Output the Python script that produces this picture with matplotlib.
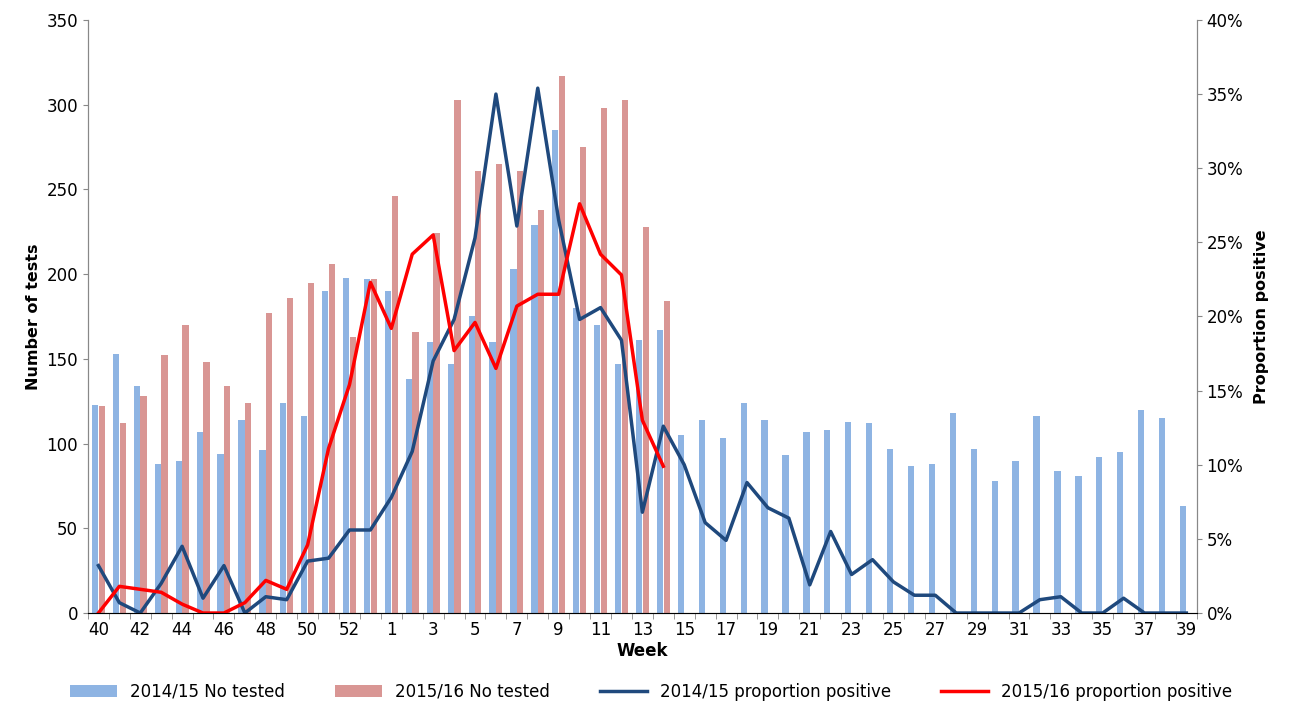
import numpy as np
import matplotlib.pyplot as plt
from matplotlib.ticker import FuncFormatter

weeks = [str(w) for w in range(40, 54)] + [str(w) for w in range(1, 40)]
tested_1415 = [123, 153, 134, 88, 90, 107, 94, 114, 96, 124, 116, 190, 198, 197,
               190, 138, 160, 147, 175, 160, 203, 229, 285, 180, 170, 147, 161, 167,
               105, 114, 103, 124, 114, 93, 107, 108, 113, 112, 97, 87, 88, 118,
               97, 78, 90, 116, 84, 81, 92, 95, 120, 115, 63]
tested_1516 = [122, 112, 128, 152, 170, 148, 134, 124, 177, 186, 195, 206, 163, 197,
               246, 166, 224, 303, 261, 265, 261, 238, 317, 275, 298, 303, 228, 184]
pos_1415 = [3.2, 0.7, 0.0, 2.0, 4.5, 1.0, 3.2, 0.0, 1.1, 0.9, 3.5, 3.7, 5.6, 5.6,
            7.8, 10.9, 17.0, 19.8, 25.3, 35.0, 26.1, 35.4, 26.5, 19.8, 20.6, 18.4, 6.8, 12.6,
            10.0, 6.1, 4.9, 8.8, 7.1, 6.4, 1.9, 5.5, 2.6, 3.6, 2.1, 1.2, 1.2, 0.0,
            0.0, 0.0, 0.0, 0.9, 1.1, 0.0, 0.0, 1.0, 0.0, 0.0, 0.0]
pos_1516 = [0.0, 1.8, 1.6, 1.4, 0.6, 0.0, 0.0, 0.7, 2.2, 1.6, 4.6, 11.1, 15.4, 22.3,
            19.2, 24.2, 25.5, 17.7, 19.6, 16.5, 20.7, 21.5, 21.5, 27.6, 24.2, 22.8, 13.0, 9.9]

x = np.arange(len(weeks))
x2 = np.arange(len(tested_1516))

fig = plt.figure(figsize=(13.03, 7.12), dpi=100)
ax = fig.add_axes([0.0675, 0.139, 0.851, 0.833])
ax.bar(x - 0.16, tested_1415, width=0.3, color='#8EB4E3', label='2014/15 No tested')
ax.bar(x2 + 0.16, tested_1516, width=0.3, color='#D99694', label='2015/16 No tested')
ax.set_xlim(-0.5, len(weeks) - 0.5)
ax.set_ylim(0, 350)
ax.set_yticks(range(0, 351, 50))
ax.set_xticks(x[::2])
ax.set_xticklabels(weeks[::2])
ax.set_xticks(np.arange(-0.5, len(weeks), 1), minor=True)
ax.tick_params(axis='x', which='major', length=0, labelsize=12, pad=6)
ax.tick_params(axis='x', which='minor', length=4, color='#888888')
ax.tick_params(axis='y', labelsize=12, color='#888888')
ax.set_xlabel('Week', fontsize=12, fontweight='bold', labelpad=2)
ax.set_ylabel('Number of tests', fontsize=11.5, fontweight='bold')
ax.spines['top'].set_visible(False)
for s in ['left', 'bottom', 'right']:
    ax.spines[s].set_color('#888888')

ax2 = ax.twinx()
ax2.plot(x, pos_1415, color='#1F497D', lw=2.5, label='2014/15 proportion positive')
ax2.plot(x2, pos_1516, color='#FF0000', lw=2.5, label='2015/16 proportion positive')
ax2.set_ylim(0, 40)
ax2.set_yticks(range(0, 41, 5))
ax2.yaxis.set_major_formatter(FuncFormatter(lambda v, p: f'{v:.0f}%'))
ax2.tick_params(axis='y', labelsize=12, color='#888888')
ax2.set_ylabel('Proportion positive', fontsize=11.5, fontweight='bold', labelpad=8)
ax2.spines['top'].set_visible(False)
ax2.spines['right'].set_color('#888888')
ax2.spines['left'].set_color('#888888')

h1, l1 = ax.get_legend_handles_labels()
h2, l2 = ax2.get_legend_handles_labels()
fig.legend(h1 + h2, l1 + l2, loc='lower center', ncol=4, frameon=False,
           fontsize=12, bbox_to_anchor=(0.5, -0.005), columnspacing=3.0, handlelength=2.8)

fig.savefig('out.png', dpi=100)
